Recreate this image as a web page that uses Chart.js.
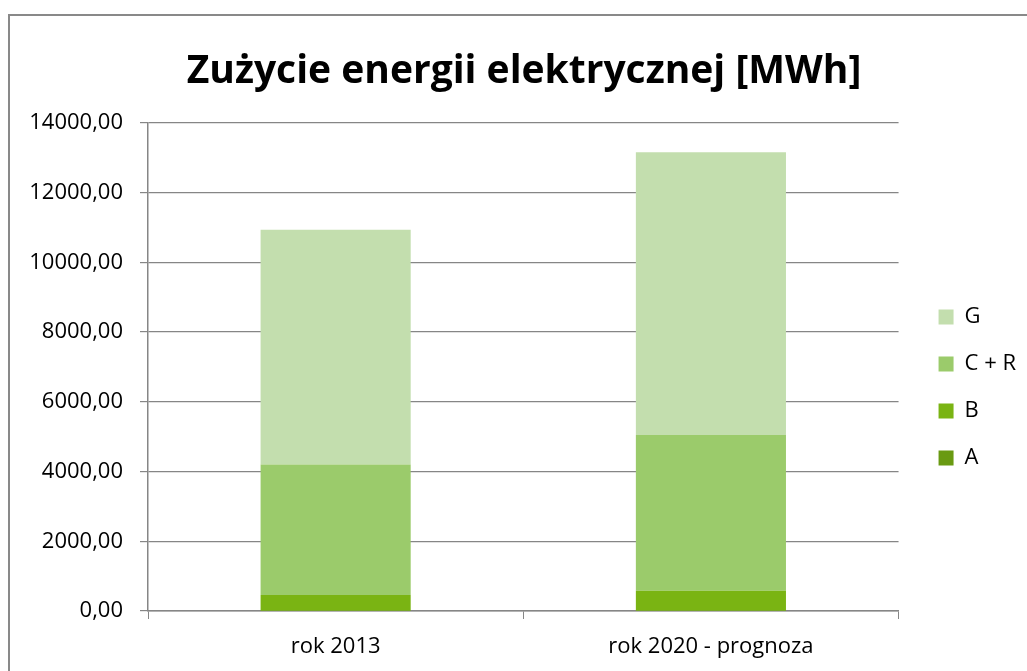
<!DOCTYPE html>
<html>
<head>
<meta charset="utf-8">
<script src="https://cdn.jsdelivr.net/npm/chart.js@4"></script>
<style>
  html, body { margin: 0; padding: 0; background: #fff; overflow: hidden; }
  #ramka { position: absolute; left: 8px; top: 14px; width: 1100px; height: 700px; border: 2px solid #898989; box-sizing: border-box; }
  #wykres { position: absolute; left: 0; top: 0; }
</style>
</head>
<body>
<div id="ramka"></div>
<canvas id="wykres" width="1027" height="671"></canvas>
<script>
// dane (MWh)
const kategorie = ['rok 2013', 'rok 2020 - prognoza'];
const serieA = [8, 10];
const serieB = [452, 572];
const serieCR = [3743, 4467];
const serieG = [6727, 8109];
const tickiY = [0, 2000, 4000, 6000, 8000, 10000, 12000, 14000];

const kolorSiatki = '#868686';

Chart.defaults.font.family = "'Open Sans', sans-serif";
Chart.defaults.color = '#000';

new Chart(document.getElementById('wykres'), {
  type: 'bar',
  data: {
    labels: kategorie,
    datasets: [
      { label: 'A', data: serieA, backgroundColor: '#699a12' },
      { label: 'B', data: serieB, backgroundColor: '#7ab413' },
      { label: 'C + R', data: serieCR, backgroundColor: '#9bcb6b' },
      { label: 'G', data: serieG, backgroundColor: '#c3deae' }
    ]
  },
  options: {
    responsive: false,
    animation: false,
    devicePixelRatio: 1,
    datasets: {
      bar: { barPercentage: 0.4, categoryPercentage: 1, borderWidth: 0 }
    },
    layout: { padding: { left: 22, right: 1, top: 0, bottom: 0 } },
    plugins: {
      title: {
        display: true,
        text: 'Zużycie energii elektrycznej [MWh]',
        font: { size: 39, weight: 'bold', lineHeight: 1.2 },
        padding: { top: 48, bottom: 28 }
      },
      legend: {
        position: 'right',
        fullSize: false,
        reverse: true,
        title: { display: true, text: '', font: { size: 41, lineHeight: 1 }, padding: 0 },
        labels: { boxWidth: 15, boxHeight: 15, padding: 25, font: { size: 22 } }
      },
      tooltip: { enabled: false }
    },
    scales: {
      x: {
        stacked: true,
        afterFit: (skala) => { skala.height = 60; },
        grid: { display: true, offset: true, drawOnChartArea: false, tickLength: 8, color: kolorSiatki },
        border: { display: true, color: kolorSiatki, width: 1.5 },
        ticks: { font: { size: 22 }, padding: 15, color: '#000' }
      },
      y: {
        stacked: true,
        min: 0,
        max: 14000,
        afterBuildTicks: (skala) => { skala.ticks = tickiY.map((v) => ({ value: v })); },
        afterFit: (skala) => { skala.width = 126; },
        grid: { color: kolorSiatki, tickLength: 8, lineWidth: 1.2 },
        border: { display: true, color: kolorSiatki, width: 1.5 },
        ticks: {
          font: { size: 22 },
          padding: 17,
          color: '#000',
          callback: (v) => v.toFixed(2).replace('.', ',')
        }
      },
      odstep: {
        type: 'linear',
        position: 'right',
        display: true,
        grid: { display: false },
        border: { display: false },
        ticks: { display: false },
        afterFit: (skala) => { skala.width = 15; }
      }
    }
  }
});
</script>
</body>
</html>
